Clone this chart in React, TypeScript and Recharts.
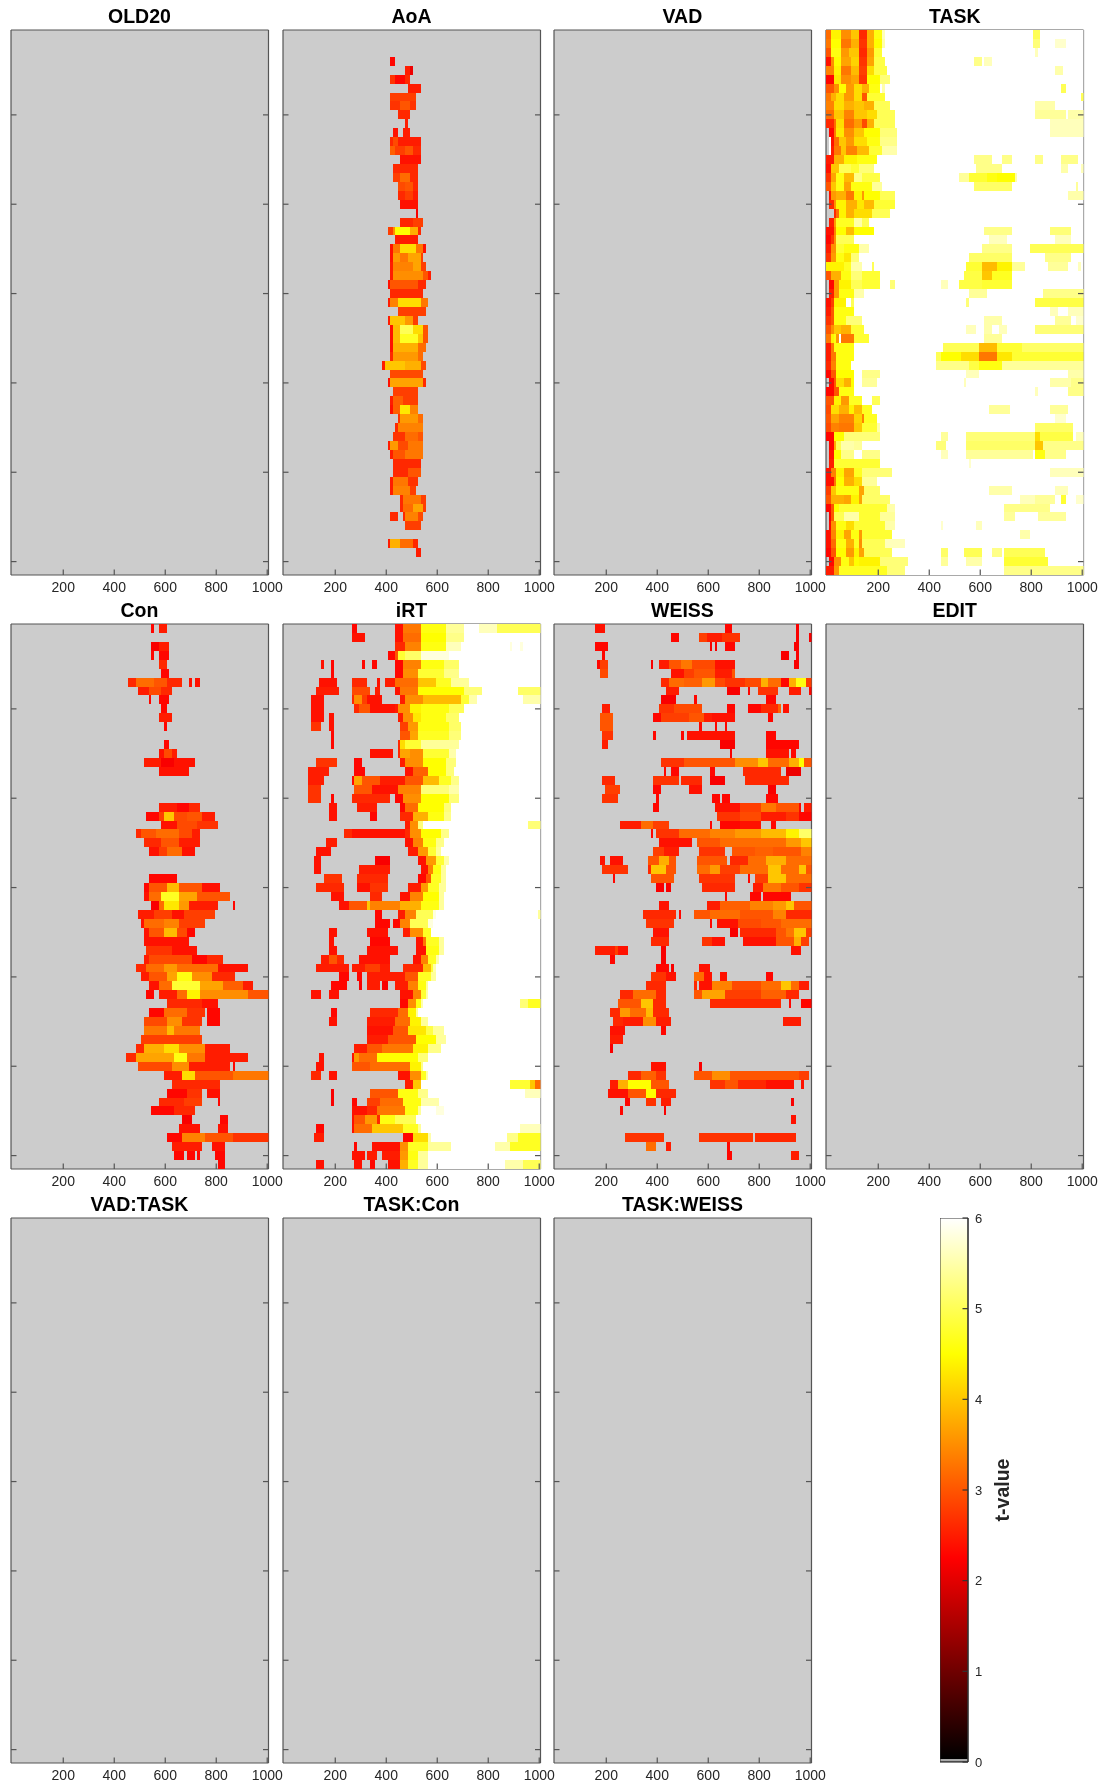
// EEG t-value panels: 11 heatmaps (time x channel) plus a hot colour bar.
import { Bar, BarChart, CartesianGrid, Scatter, ScatterChart, XAxis, YAxis } from "recharts";

const xTicks = [200, 400, 600, 800, 1000];
const yTicks = [10, 20, 30, 40, 50, 60];
const barTicks = [0, 1, 2, 3, 4, 5, 6];
const rowCount = 61;

// Each row is one channel, top to bottom. "a-b:t" = samples from a to b ms with t-value t.
// Later runs paint over earlier ones.
const none: string[] = [];

const aoaRows = [
  "", "", "",
  "420-430:2.3",
  "480-490:2.5 500:2.1",
  "420-430:2.7 440-470:2.3 480-490:2.6",
  "490-530:2.5",
  "420-510:2.8",
  "420-450:2.7 460-490:3 500-510:2.7",
  "450-490:2.6",
  "480:2.5",
  "430-440:2.4 470-490:2.5",
  "420:2.6 430-440:2.9 450-530:2.5",
  "420-430:3.1 440-470:2.8 480-500:3 510-530:2.6",
  "460-530:2.4",
  "430-520:2.6",
  "430-450:2.8 460-490:3.2 500-520:2.6",
  "450-470:2.9 480-500:3 510-520:2.6",
  "450-470:2.6 480-500:2.8 510-520:2.5",
  "460-520:2.4",
  "520:2.2",
  "460-500:2.6 510-540:2.8",
  "410-420:2.8 430:3.5 440-490:4.5 500-520:3.8 530:2.6",
  "440-520:2.5",
  "420:2.4 430-450:3.3 460-510:4.2 520-540:3.3 550:2.4",
  "420:2.4 430-450:3.6 460-480:3.3 490-530:3.7 540:2.8",
  "420:2.5 430-500:3.4 510-530:3.7 540-550:2.8",
  "420:2.5 430-540:3.5 550-560:3 570:2.5",
  "410:2.4 420-520:3 530-550:2.6",
  "420-540:2.6",
  "410:2.5 420-440:3.4 450-530:4.2 540-560:3.3",
  "450-550:2.8",
  "410:2.5 420-470:4 480-500:3.6 510-520:2.8",
  "420:2.4 430-450:3.9 460-500:5 510-540:4.2 550-560:3",
  "420:2.4 430-450:3.9 460-520:4.7 530-540:4 550-560:3",
  "420:2.4 430-520:3.8 530-550:3.2",
  "420:2.6 430-520:3.6 530-540:3.2",
  "390:2.5 400-470:4 480-530:3.8 540-550:2.9",
  "420-540:2.9",
  "410:2.4 420-540:3.7 550:2.6",
  "430-520:2.8",
  "420:2.5 430-460:3.1 470-520:2.8",
  "420:2.4 430-450:3.1 460-490:4.3 500-520:3.4",
  "450:2.7 460-520:3.6 530-540:3.2",
  "440:2.6 450-540:3.4",
  "430-470:2.7 480-520:3.2 530-540:3",
  "410:2.5 420-440:3.6 450-480:2.9 490-540:3.3",
  "420:2.5 430-470:3 480-540:3.3",
  "430-530:2.6",
  "430-480:2.6 490-530:3",
  "420:2.5 430-480:3.3 490-520:2.7",
  "420:2.5 430-490:3.4 500-510:2.8",
  "460:2.6 470-530:3.3 540-550:2.8",
  "460:2.6 470-500:3.2 510-540:3.7 550:2.8",
  "420-440:2.6 470:2.6 480-520:3.4 530-540:2.9",
  "480-530:2.8",
  "",
  "410:2.5 420-450:3.8 460-500:3.2 510-520:2.6",
  "520-530:2.5",
  "", "",
];

const taskRows = [
  "0-1000:6 0-10:3.2 20-50:4.4 60-90:3.5 100-120:4 130-150:2.6 160-180:3.8 190-210:4.6 220:5.6 810-830:5",
  "0-1000:6 0-10:3.3 20-50:4.5 60-90:3.3 100-120:3.8 130-150:2.7 160-180:3.8 190-210:4.5 220:5.5 810-830:5.2 900-930:5.7",
  "0-1000:6 0-10:3 20-50:4.6 60-80:3.6 90-120:4 130-150:2.6 160-180:3.6 190-210:4.8 820:5.6",
  "0-1000:6 0-10:2.4 20:3.5 30-50:4.5 60-90:3.7 100-120:4.1 130-150:2.7 160-180:3.7 190-220:4.9 580-600:5.3 620-640:5.6",
  "0-1000:6 0-20:3.4 30-50:4.4 60-90:3.3 100-120:3.9 130-150:2.8 160-180:4.2 190-230:4.9 900-920:5.5",
  "0-1000:6 0-20:2.3 30-50:4.3 60-90:3.5 100-120:3.7 130-150:2.7 160-200:4.5 210-240:5.2",
  "0-1000:6 0-20:3 30-40:3.5 50-70:4.5 80-100:3.6 110-130:4.2 140-160:3.8 170-200:4.6 220:5.5 920-930:5",
  "0-1000:6 0-10:3.3 20-30:3.8 40-60:4.2 70-100:3.6 110-130:4.2 140-150:3 160-220:4.8 1000:5",
  "0-1000:6 0-20:3.4 30-60:4.2 70-100:3.8 110-140:4 150-180:3.8 190-240:5 820-890:5.5",
  "0-1000:6 0-20:3.2 30-60:4 70-100:3.4 110-150:4 160-190:4.2 200-260:5 820-930:5.4 950-1000:5.5",
  "0-1000:6 0-20:2.6 30:3.2 40-60:4.2 70-100:3.2 110-130:3.6 140-150:2.9 160-180:3.8 190-260:5 880-1000:5.6",
  "10-1000:6 10-20:2.3 30:3.3 40-60:4.3 70-100:3.5 110-140:4 150-200:4.5 210-270:5.2 880-1000:5.6",
  "10-1000:6 20:2.4 30-40:3.2 50-70:4 80-100:3.6 110-150:4.2 160-200:4.6 210-270:5.3",
  "10-1000:6 20:2.5 30-50:3.3 60-70:4 80-110:3.4 120-160:3.9 170-210:4.8 220-270:5.5",
  "0-1000:6 0-20:2.5 30-60:3.8 70-110:4.4 120-190:4.6 580-640:5.3 690-720:5.3 820-840:5.3 920-980:5.3",
  "0-1000:6 0-10:2.4 20-40:4 50-90:5 100-120:4.8 130-180:5.2 590-680:5.3 920-940:5.5 1000:5.6",
  "0-1000:6 0-10:2.7 20-30:3.7 40-60:4.6 70-100:3.9 110-130:5.3 140-200:4.9 520-550:5.4 560-620:4.8 630-660:4.6 670-730:4.5 740:5.5",
  "0-1000:6 0-10:3 20-30:4 40-60:4.6 70-90:3.7 100-170:4.6 180-210:5.4 580-720:5.1 980:5.4",
  "10-1000:6 10:2.4 20-30:3.6 40-70:3.8 80-100:3.3 110-130:4.4 140:3.6 150-200:4.5 210-260:5 950-1000:5.5",
  "10-1000:6 10-20:2.6 30:3.5 40-70:4.4 80-110:3.8 120-140:4.3 150-180:3.9 190-260:4.8",
  "30-1000:6 30:2.6 40:3.2 50-70:4.4 80-100:3.8 110-130:4.2 140-170:4.2 180-240:5",
  "10-1000:6 10-20:2.5 30:3.6 40-100:4.7 110-130:5.5 140-160:5",
  "0-1000:6 0-20:2.4 30:3.4 40-70:4.5 80-100:3.9 110-180:4.5 620-720:5.3 880-950:5.2",
  "0-1000:6 0-10:2.3 20:2.7 30:3.5 40-100:5 640-700:5.6 900-950:5.6",
  "0-1000:6 0-10:2.5 20-30:3.5 40-60:4.8 70-120:4.6 130-160:5.5 610-720:5.3 800-1000:5",
  "0-1000:6 0-10:2.7 20-30:3.6 40-60:4.6 70-90:4.3 100-120:5.2 560-720:5.1 860-950:5.3",
  "0-1000:6 0-60:4.4 70-90:4.7 100-130:5.5 180:5 550-600:4.8 610-660:3.9 670-720:4.4 730-770:5.4 870-940:5.4 990:5.6",
  "0-1000:6 0-10:3 20-50:3.8 60-90:4.6 100-130:5.2 140-200:4.8 540-600:4.9 610-640:4 650-720:4.7",
  "10-1000:6 10-20:2.3 30-40:3.6 50-90:4.4 100-130:5 140-200:4.8 250-260:5.2 450-470:5.6 520-600:4.9 610-720:4.8",
  "10-1000:6 10-20:2.5 30-40:3.6 50-100:4.6 110-140:5.5 560-620:5.4 850-1000:5.3",
  "0-1000:6 0-10:2.4 20:2.8 30-70:4.4 100:5 550:5.2 820-1000:4.9",
  "0-1000:6 0-10:2.5 20:3 30-100:4.6 880-900:5.6 950-1000:5.6",
  "0-1000:6 0-10:2.7 20:3 30-70:4.6 80-130:5.2 620-680:5.5 900-950:5.4 980-1000:5.7",
  "0-1000:6 0-10:3 20:3.5 30-50:4 60-90:3.8 100-140:4.8 550-580:5.6 620-640:5.5 680-700:5.6 820-1000:5.2",
  "0-1000:6 0-10:3.3 20:4.4 30:4.6 40:3.6 60-100:3.3 110-160:4.8 620-680:5.4",
  "0-1000:6 0-10:2.5 20:3.3 30-100:4.6 460-590:5 600-660:3.9 670-760:4.8 770-1000:5.1",
  "0-1000:6 0-10:2.5 20-30:3.3 40-100:4.6 430-440:5 450-520:4.5 530-590:4.2 600-660:3.3 670-720:4.3 730-1000:4.8",
  "0-1000:6 0-10:2.6 20-30:3.4 40-90:4.6 430-550:5.3 560-590:4.9 600-680:4.6 690-1000:5.4",
  "0-1000:6 0-10:2.3 20-30:3 40-100:4.5 140-200:5.3 550-590:5.6 950-1000:5.5",
  "10-1000:6 10-20:2.3 30:3 40-60:4.2 70-90:3.8 100:4.5 140-190:5.4 540:5.6 880-950:5.5 960-1000:5.3",
  "0-1000:6 0-20:2.3 30-40:3 50-100:4.6 820:5.6 950-1000:5.3",
  "0-1000:6 0-20:3 30-50:4.4 60-80:3.6 90-130:4.7 180-200:5",
  "0-1000:6 0-10:2.9 20-40:4.2 50-80:3.8 90-100:4.4 110-130:3.9 140-170:4.7 640-710:5.4 880-940:5.4",
  "0-1000:6 0-10:3 20-40:3.7 50-100:3.4 110-130:4.1 140:3.4 150-190:4.7 900-930:5.7",
  "0-1000:6 0-10:2.9 20-40:3.4 50-100:3.3 110-130:4 140-190:4.8 200:5.5 820-960:5.1",
  "0-1000:6 0-20:2.3 30-60:4.5 70-130:5.2 140-200:5.2 450-470:5.4 550-810:5.2 820-830:4.2 840-960:4.9 980-1000:5.6",
  "10-1000:6 10-20:2.3 30:3.8 40-50:5 60-100:5.5 110-130:5.4 430-460:5.2 550-810:5.1 820-840:4 850-1000:5.3",
  "10-1000:6 10-20:2.4 30-50:4.5 60-100:5.3 140-200:5.3 450-470:5.6 550-800:5.4 820-850:4.6 860-930:5.3",
  "10-1000:6 10-20:2.5 30-200:4.8 560:5.7",
  "0-1000:6 0-10:2.4 20-30:3.4 40-60:4.4 70-100:3.7 110-130:4.7 140-250:5.2 880-1000:5.6",
  "0-1000:6 0-20:2.4 30:3.3 40-60:4.5 70-100:3.8 110-130:4.2 140-190:5.4",
  "0-1000:6 0-10:2.8 20-30:4 40-120:4.6 130-140:3.7 150-200:5.1 640-720:5.5 900-940:5.6",
  "0-1000:6 0-10:3 20-60:3.8 70-90:3.7 100-120:4.4 130:3.7 140-240:5.1 760-810:5.6 820-890:5.4 920-930:4.8 980-1000:5.7",
  "0-1000:6 0-10:2.3 20:3 30-40:4.5 50-100:4.8 110-230:4.8 240-260:5.5 700-870:5.3",
  "10-1000:6 10:2.2 20:3 30-60:5 70-120:5.5 130-200:4.8 210-260:5.4 700-730:5.4 830-930:5.4",
  "10-1000:6 10:2.3 20-30:3.5 40-70:4.6 80-100:4.2 110-220:4.8 230-260:5.5 450:5.7 590-600:5.6",
  "0-1000:6 0-10:2.4 20-30:3.4 40-60:4.4 70-90:3.7 100-120:4.6 130:3.6 140-250:4.8 760-790:5.5",
  "0-1000:6 0-10:2.4 20-30:3.2 40-70:4.6 80-100:3.8 110-120:4.7 130:3.5 140-220:5 230-300:5.6",
  "0-1000:6 0-10:2.3 20-30:3 40-70:4.5 80-100:3.6 110-120:4.4 130-140:3.7 150-250:5 450-470:5.1 540-600:5 650-680:5.3 700-850:5",
  "10-1000:6 10-20:2.3 30-50:3.5 60-80:4.6 90-100:4 110-120:4.5 130-200:4.4 210-310:5.2 450-470:5.4 550-600:5.5 700-860:4.8",
  "0-1000:6 0-20:2.5 30-40:3.6 50-230:4.7 240-300:5.2 700-1000:5.3",
];

const conRows = [
  "550:2.3 580-600:2.5",
  "",
  "550-570:2.2 580-610:2.5",
  "550:2.3 580-610:2.3",
  "580-600:2.6",
  "590-610:2.3",
  "460-480:2.6 490-550:3.2 560-600:3 610-660:2.6 700:2.4 720-730:2.4",
  "500-530:2.5 540-580:2.9 590-620:2.6",
  "540:2.3 580-610:2.3",
  "590-600:2.3",
  "580-620:2.5",
  "600:2.3",
  "",
  "600-610:2.3",
  "580-590:2.4 600-620:2.9 630-640:2.5",
  "520-580:2.5 590-630:2.2 640-710:2.4",
  "580-690:2.4",
  "", "", "",
  "580-640:2.5 650-690:2.3 700-730:2.6",
  "530-570:2.3 580-590:2.8 600-630:4 640-680:2.9 690-740:3 750-790:2.5",
  "590-640:2.4 650-720:2.9 730-800:2.7",
  "490-500:2.6 510-560:3 570-650:3.2 660-700:2.9 710-730:2.5",
  "520-580:2.6 590-650:3 660-730:2.5",
  "540-570:2.4 580-600:2.8 610-660:3.2 670-710:2.4",
  "", "",
  "540-640:2.3",
  "520-530:2.3 540-600:3 610-650:3.9 660-740:3 750-810:2.4",
  "520-530:2.4 540-580:3.2 590-650:4.7 660-720:3.7 730-850:3",
  "550-570:2.2 580-590:3.2 600-650:4.3 660-690:3.6 700-800:2.5 870:2.3",
  "500-550:2.5 560-620:2.8 630-670:2.4 680-790:2.8",
  "510:2.4 520-590:3.2 600-650:3.4 660-750:2.8",
  "520-530:2.4 540-590:3 600-640:3.9 650-680:2.9 690-710:2.3",
  "520-690:2.4",
  "530-620:2.7 630-720:2.4",
  "520-530:2.5 540-700:2.9 710-760:2.3 770-820:2.6",
  "490-520:2.6 530-590:3.2 600-640:3.6 650-800:3.2 810-920:2.4",
  "510-530:2.5 540-600:3 610-640:3.7 650-700:4.6 710-780:3.5 790-870:2.6",
  "540-570:2.4 580-620:3.2 630-730:4.8 740-820:3.7 830-900:3.1 910-940:2.5",
  "530-550:2.3 580-640:2.5 650-680:3.2 690-730:4.4 740-920:3.5 930-1000:3",
  "610-740:2.6 750-800:2.4",
  "540-590:2.3 600-680:3.2 690-750:2.7 770-810:2.3",
  "520-600:2.9 610-660:3.5 670-740:2.7 770-810:2.3",
  "520-600:3.3 610-630:3.9 640-730:3.3",
  "510-740:2.8",
  "490-510:2.6 520-590:3.8 600-650:4.2 660-750:3.5 760-850:2.5",
  "450-480:2.6 490-630:3.7 640-680:4.6 690-750:3.3 760-920:2.5",
  "500-620:2.9 630-690:3.5 700-850:2.5 870:2.3",
  "600-660:2.5 670-710:4.2 720-860:3 870-1000:3.3",
  "630-810:2.6",
  "610-680:2.3 690-740:2.7 770-810:2.4",
  "580-670:2.6 680-740:2.8 810:2.3",
  "550-630:2.3 640-710:2.6",
  "670-700:2.2 820-840:2.3",
  "660-730:2.4 810-840:2.4",
  "610-660:2.3 670-750:3.4 760-860:3 870-1000:2.7",
  "630-740:2.5 790-830:2.4",
  "640-670:2.3 690-710:2.3 730:2.3 800-830:2.3",
  "810-830:2.3",
];

const irtRows = [
  "270-280:2.3 440-460:2.4 470-530:3.3 540-630:4.6 640-700:5.4 710-1000:6 770-830:5.6 840-1000:5",
  "270-310:2.4 440-460:2.4 470-530:3.2 540-630:4.5 640-700:5.3 710-1000:6",
  "440-470:2.6 480-530:3.4 540-630:4.6 640-690:5.6 700-1000:6 890:5.8 930:5.8",
  "410-430:2.3 440:3 450-470:4.8 480-530:5.1 540-640:5.8 650-1000:6",
  "150:2.4 190:2.3 310:2.3 350-360:2.3 440-460:2.3 470-530:3.4 540-620:4.6 630-680:5.1 690-1000:6",
  "190:2.3 440-460:2.3 470-520:3.5 530-620:4.8 630-680:5.3 690-1000:6",
  "140-200:2.4 270-320:2.6 370:2.4 400-430:2.5 440-520:3.2 530-590:4 600-650:4.7 660-720:5.4 730-1000:6",
  "130-210:2.5 270-330:2.9 360-370:2.5 440-450:2.4 460-520:3.3 530-700:4.5 710-770:5.2 780-1000:6 920-1000:5.1",
  "110-150:2.4 270:2.6 280-300:3.5 310-320:2.8 330-380:2.4 460-470:2.5 480-540:3.5 550-690:3.9 700-720:4.8 730-750:5.5 760-1000:6 940-1000:5.5",
  "110-150:2.4 280-290:2.6 300-330:3 340-430:2.4 440:2.5 450-490:3.5 500-530:4.4 540-640:4.6 650-700:5 710-1000:6",
  "110-150:2.4 180-190:2.4 450-460:2.5 470-500:3.5 510-530:4.3 540-630:4.6 640-680:5.1 690-1000:6",
  "110-140:2.7 180-190:2.4 460-480:2.8 490-520:3.6 530-640:4.6 650-690:5.1 700-1000:6",
  "190:2.3 460-490:3 500-520:3.7 530-640:4.7 650-690:5.2 700-1000:6",
  "190:2.3 450:2.6 460-470:4.2 480-530:4.8 540-680:5.4 690-1000:6",
  "340-420:2.4 450:2.6 460-490:3.7 500-540:3.5 550-640:4.8 650-670:5.5 680-1000:6",
  "130-200:2.7 280-300:2.3 460-470:2.5 480-540:3.5 550-630:4.5 640-670:5.2 680-1000:6",
  "100-170:2.5 280-310:2.3 480-500:2.4 510-560:3.1 570-630:4.5 640-660:5.2 670-1000:6",
  "100-150:2.5 270:2.3 280-300:3.7 310-370:3 380-470:2.5 480-540:3 550-600:3.9 610-650:4.7 660-680:5.3 690-1000:6",
  "100-140:2.7 280-340:3 350-440:2.4 450-530:3.4 540-640:5.2 650-680:5.5 690-1000:6",
  "100-140:2.7 190:2.3 270-410:2.6 440-460:2.3 470-530:3.5 540-640:4.5 650-680:5.2 690-1000:6",
  "180-200:2.4 290-360:2.5 460-470:2.3 480-520:3.2 530-620:4.5 630-650:5.2 660-1000:6",
  "180-200:2.4 340-360:2.3 460-500:2.6 510-560:3.8 570-620:4.6 630-650:5.3 660-1000:6",
  "480-490:2.5 500-520:3.5 530-540:5.2 550-1000:6 960-1000:5.2",
  "240-260:2.6 270-470:2.4 480-490:2.6 500-530:3.5 540-610:4.5 620-640:5.3 650-1000:6",
  "170-200:2.5 480-500:2.4 510-540:3.4 550-590:4.6 600-620:5.3 630-1000:6",
  "130-180:2.4 490-520:2.5 530-560:3.6 570-590:4.8 600-610:5.4 620-1000:6",
  "120-140:2.4 360-410:2.2 530-550:2.4 560-590:3.6 600-620:4.8 630-640:5.5 650-1000:6",
  "120-140:2.4 300-410:2.5 540-560:2.4 570-580:3.4 590-610:4.6 620-630:5.4 640-1000:6",
  "160-220:2.7 290-400:2.6 530-550:2.3 560-570:3 580-610:4.7 620-630:5.4 640-1000:6",
  "130-230:2.6 290-330:2.4 340-400:2.7 490-530:2.5 540-560:3.6 570-600:4.7 610-630:5.4 640-1000:6",
  "190-230:2.4 340-380:2.6 460-490:2.4 500-540:3.4 550-600:4.5 610-620:5.4 630-1000:6",
  "220-250:2.4 260-320:3 330:4 340-450:3.4 460-530:3.8 540-600:4.6 610-620:5.4 630-1000:6",
  "360-380:2.3 450-470:2.5 480-510:3.4 520-580:5 590:5.8 600-1000:6 1000:5.4",
  "360-410:2.3 430-450:2.3 460-490:3.4 500-560:5 570-580:5.8 590-1000:6",
  "180-200:2.4 330-400:2.4 470-490:2.5 500-540:3.5 550-570:4.7 580-1000:6",
  "180-190:2.4 340-410:2.3 520-540:2.4 550:3.3 560-600:4.7 610-620:5.4 630-1000:6",
  "180-200:2.4 330-440:2.4 520-550:2.4 560-600:4.6 610-620:5.4 630-1000:6",
  "150-170:2.5 180-200:3 210-230:2.6 300-410:2.4 510-530:2.4 540-560:3.4 570-590:4.7 600:5.5 610-1000:6",
  "130-250:2.5 270-310:2.5 320-370:2.8 380-410:2.5 470-540:2.6 550-570:3.9 580:4.8 590:5.5 600-1000:6",
  "220-250:2.3 290-300:2.3 330-470:2.5 480-520:3 530-570:4.7 580-590:5.4 600-1000:6",
  "190-240:2.3 300:2.2 330-370:2.5 390-400:2.2 440-480:2.5 490-520:3.4 530-550:4.6 560:5.4 570-1000:6",
  "110-140:2.4 180-210:2.4 460-500:2.4 510-530:3.4 540-550:4.8 560:5.5 570-1000:6",
  "460-480:2.3 490-510:3.5 520-530:4.6 540:5.5 550-1000:6 930-950:5.2 960-1000:4.7",
  "190-200:2.3 340-440:2.6 450-480:3.2 490-510:4.4 520:5.4 530-1000:6",
  "180-200:2.4 330-430:2.5 440-490:3.2 500-530:4.4 540-560:5.4 570-1000:6",
  "330-420:2.4 430-480:3 490-550:4.3 560-580:4.9 590-620:5.4 630-1000:6",
  "330-400:2.5 410-510:3 520-590:4.5 600-630:5.4 640-1000:6",
  "280-320:2.5 330-380:3 390-500:3.3 510-560:4.4 570-610:5.3 620-1000:6",
  "140-150:2.4 270:2.4 280-290:3.6 300-360:3.2 370-520:4.5 530-560:5.2 570-1000:6",
  "130-150:2.4 270-330:3 340-490:3.2 500-530:4.4 540:5.3 550-1000:6",
  "110-140:2.6 180-200:2.4 450-490:2.4 500-530:3.5 540-550:4.7 560:5.5 570-1000:6",
  "480-500:2.5 510-530:4 540-1000:6 890-960:4.8 970-980:4 990-1000:3.2",
  "190:2.2 340-440:3 450-520:4.6 530-560:5.3 570-1000:6 950-1000:5.6",
  "190:2.2 270-280:2.3 330-370:2.8 380-460:3.2 470-530:4.6 540-600:5.5 610-1000:6",
  "270-320:2.4 330-360:2.6 370-470:3.3 480-520:4.6 530:5.4 540-1000:6 600-620:5.8",
  "270:2.4 280-310:3 320-360:3.6 370:2.6 380-430:4.6 440-510:5 520-1000:6",
  "130-150:2.3 270:2.4 280-340:3.2 350-460:4 470-520:4.7 530:5.4 540-1000:6 930-1000:5.6",
  "120-150:2.5 470-500:2.3 510-560:4.2 570:5.5 580-1000:6 880-910:5.3 920-1000:4.7",
  "280:2.3 350-450:2.4 460-480:3.5 490-560:4.7 570-650:5.4 660-1000:6 830-880:5.5 890-1000:4.7",
  "270-310:2.4 330-360:2.5 390-450:2.5 460-480:3.6 490-520:4.6 530-560:5.4 570-1000:6",
  "130-150:2.4 280-300:2.4 340-350:2.3 410-450:2.4 460-480:3.8 490-520:4.7 530-560:5.4 570-1000:6 870-930:5.5 940-1000:5",
];

const weissRows = [
  "160-190:2.4 670-690:2.3 950:2.2",
  "460-480:2.3 570-590:2.8 600-650:2.5 660-720:2.7 950:2.2 1000:2.2",
  "160-200:2.3 610:2.2 630:2.2 670-700:2.3 940-950:2.2",
  "190:2.3 890-910:2.2 950:2.2",
  "170:2.3 180-200:2.8 380:2.2 410-440:2.5 450-490:3 500-530:3.3 540-620:2.9 630-700:2.4 940-950:2.2",
  "180-200:2.9 460-500:2.4 510-540:2.8 550-620:3 630-690:2.5 700:3",
  "420-440:2.6 450-500:3.2 510-570:3.1 580-620:3.6 630-660:2.9 670-740:2.7 750-800:2.9 810-830:3.8 840-880:3.2 890-910:2.3 920-940:3.8 950-980:4.6 990-1000:2.8",
  "440-480:2.5 680-720:2.2 760:2.3 800-870:2.7 920-960:2.5 1000:2.3",
  "420-470:2.2 550:2.3 830-860:2.3",
  "190-210:2.5 410-460:2.7 470-570:2.9 680-700:2.3 760-800:2.3 810-870:2.6 880:3.1 900-910:2.4",
  "180-220:3 390-410:2.3 420-520:2.8 530-580:3 590-610:2.5 620-700:2.4 840-850:2.3",
  "180-220:3 570:2.3 630:2.3 670:2.3",
  "190-220:2.7 390:2.3 500:2.3 520-700:2.4 830-860:2.3",
  "190-200:2.5 650-700:2.2 830-950:2.3",
  "690:2.2 830-910:2.4 930-940:2.3",
  "420-500:2.7 510-700:3 710-790:3.5 800-830:4 840-910:3.2 920-950:3.8 960-970:4.5 980-1000:3",
  "430:2.3 460-480:2.3 610-620:2.3 740-880:2.6 910-960:2.1",
  "190-230:2.6 390-480:2.7 500-570:2.6 610-660:2.2 750-910:2.6",
  "200-250:2.8 390-410:2.3 530-570:2.4 840-860:2.2",
  "190-240:2.7 400:2.3 620-640:2.3 660-680:2.3 830-870:2.3",
  "390-400:2.3 630-720:2.4 730-800:2.8 810-860:3.3 870-950:3 960:2.3 980-1000:2.5",
  "640-720:2.7 730-800:2.9 810-900:2.5 910-950:2.7 960-1000:2.3",
  "260-330:2.5 340-380:3.2 390-440:2.8 610:2.3 650-720:2.3 730-800:2.4 850-860:2.3",
  "380:2.3 400-480:2.7 490-600:3.2 610-700:3.4 710-800:3.6 810-900:3.9 910-950:4.4 960-1000:5.1",
  "410-530:2.4 560-640:3 650-790:3.2 800-900:3.2 910-960:3.6 970-1000:4",
  "390-420:2.8 430-480:2.5 570-660:2.7 700-780:3 790-850:3.1 860-960:3 970-1000:3.4",
  "180-190:2.4 220-260:2.4 370-400:3 410-440:3.8 450-470:3 560-670:3 690-750:2.6 760-820:3.2 830-900:3.8 910-1000:3.2",
  "190-280:2.7 370:2.6 380-430:4 440-470:3 560-600:3.2 610-640:3.6 650-720:2.8 730-830:3.2 840-880:4 890-950:3.2 960-980:4 990-1000:3",
  "230:2.3 380-460:3 570-700:2.7 760:2.3 790-830:2.8 840-900:4 910-1000:3.2",
  "400-420:2.2 440-450:2.2 580-700:2.6 780-810:2.5 820-880:3.3 890-950:3 960-1000:2.7",
  "670:2.3 770-800:2.3 820-920:2.3",
  "410-440:2.4 600-640:2.5 650-760:3.1 770-850:3.4 860-900:3.6 910-930:4 940-1000:3",
  "350-470:2.6 490:2.3 550-600:3 610-720:3.2 730-850:3 860-900:3.4 910-1000:2.6",
  "360-460:2.7 610:2.3 640-710:2.4 720-800:2.9 810-880:3 890-1000:3.2",
  "390-440:2.4 690-710:2.2 730-860:2.6 870-900:3 910-930:3.3 940-980:4 990-1000:2.8",
  "380-440:2.6 580-610:2.7 620-660:2.4 740-860:2.4 870-930:3 940-960:3.8 970-990:2.8",
  "160-230:2.5 240:2.8 250-280:2.4 420-430:2.2 930-960:2.4",
  "220-230:2.3 420-430:2.2",
  "400-440:2.3 460:2.2 570-600:2.4",
  "380-430:2.7 440-470:2.4 550-580:3.2 590-610:2.4 650-670:2.4 830-850:2.3",
  "360-430:2.6 550:2.6 570-610:2.4 620-690:3.4 700-800:2.9 810-880:3.2 890-920:4 930-950:3.2 960-990:2.5",
  "260-300:2.6 310-390:3.2 400-430:2.6 550-570:3 580-660:3.7 670-800:2.8 810-900:3.1 910-950:2.6",
  "250-330:3 340-380:4 390-430:2.6 610-880:2.6 920:2.3 970-1000:2.3",
  "220-250:2.6 260-290:3.6 300-350:3.2 360-380:3.9 390-440:2.6",
  "230-260:2.6 270-340:2.5 350-390:3.5 400-450:2.5 900-960:2.5",
  "220-270:2.4 420-430:2.3",
  "220-260:2.5",
  "220:2.2",
  "",
  "380-430:2.4 570:2.2",
  "290-330:2.6 340-390:3.1 400-430:2.7 550-610:3 620-680:3.5 690-880:3 890-950:3 960-990:2.8",
  "220-240:2.5 250-280:3.8 290-370:4.5 380-440:3 610-660:2.7 670-710:3 720-820:2.6 830-930:2.4 970:2.4",
  "210-280:2.4 290-350:3 360-390:4.5 400-470:2.6",
  "280-290:2.3 360-390:2.7 420-450:2.5 930:2.2",
  "260:2.3 430:2.2",
  "930-940:2.4",
  "",
  "280-420:2.7 570-770:2.7 790-940:2.6",
  "360-390:3.2 440-450:2.5 680:2.3",
  "680-690:2.3 930-950:2.5",
  "",
];

// hot colormap stops, used for the cells and the colour bar
const hotStops = [
  { at: 0, color: [0, 0, 0] },
  { at: 2.25, color: [255, 0, 0] },
  { at: 4.5, color: [255, 255, 0] },
  { at: 6, color: [255, 255, 255] },
];

function hot(t: number) {
  for (let i = 1; i < hotStops.length; i++) {
    const a = hotStops[i - 1];
    const b = hotStops[i];
    if (t <= b.at) {
      const f = (t - a.at) / (b.at - a.at);
      const c = a.color.map((v, k) => Math.round(v + (b.color[k] - v) * f));
      return `rgb(${c[0]},${c[1]},${c[2]})`;
    }
  }
  return "#fff";
}

function toCells(rows: string[]) {
  const cells: { x: number; y: number; w: number; t: number }[] = [];
  rows.forEach((row, i) => {
    if (!row) return;
    row.split(" ").forEach((token) => {
      const [span, t] = token.split(":");
      const [a, b] = span.split("-").map(Number);
      const end = b === undefined ? a : b;
      cells.push({ x: (a + end) / 2, y: i + 1, w: end - a + 10, t: Number(t) });
    });
  });
  return cells;
}

const colLeft = [10.7, 282.7, 553.7, 826];
const rowTop = [30.3, 624, 1218];
const plotW = 257.5;
const plotH = 545;
const pad = 20;
const frame = "#555555";
const textColor = "#262626";
const font = "'Liberation Sans', Arial, sans-serif";
const tickLen = 5.5;

const panels = [
  { title: "OLD20", col: 0, row: 0, rows: none },
  { title: "AoA", col: 1, row: 0, rows: aoaRows },
  { title: "VAD", col: 2, row: 0, rows: none },
  { title: "TASK", col: 3, row: 0, rows: taskRows },
  { title: "Con", col: 0, row: 1, rows: conRows },
  { title: "iRT", col: 1, row: 1, rows: irtRows },
  { title: "WEISS", col: 2, row: 1, rows: weissRows },
  { title: "EDIT", col: 3, row: 1, rows: none },
  { title: "VAD:TASK", col: 0, row: 2, rows: none },
  { title: "TASK:Con", col: 1, row: 2, rows: none },
  { title: "TASK:WEISS", col: 2, row: 2, rows: none },
];

function Cell(props: any) {
  const { cx, cy, payload } = props;
  const w = (payload.w * plotW) / 1010;
  const h = plotH / rowCount;
  return (
    <rect
      x={cx - w / 2}
      y={cy - h / 2}
      width={w}
      height={h}
      fill={hot(payload.t)}
      shapeRendering="crispEdges"
    />
  );
}

/* ---- inward MATLAB style ticks, on all four sides ---- */
const inward: Record<string, number[]> = {
  bottom: [0, -tickLen],
  top: [0, tickLen],
  left: [tickLen, 0],
  right: [-tickLen, 0],
};

function sideTick(side: string, stroke: string) {
  return (p: any) => {
    const [dx, dy] = inward[side];
    return (
      <g>
        <line x1={p.x} y1={p.y} x2={p.x + dx} y2={p.y + dy} stroke={stroke} strokeWidth={1.2} />
        {side === "bottom" && (
          <text x={p.x} y={p.y + 17} textAnchor="middle" fill={textColor} fontSize={14} fontFamily={font}>
            {p.payload.value}
          </text>
        )}
      </g>
    );
  };
}

function barTick(p: any) {
  const [dx, dy] = inward.right;
  return (
    <g>
      <line x1={p.x} y1={p.y} x2={p.x + dx} y2={p.y + dy} stroke="#333333" strokeWidth={1.2} />
      <text x={p.x + 7} y={p.y + 4.5} fill={textColor} fontSize={13} fontFamily={font}>
        {p.payload.value}
      </text>
    </g>
  );
}

function Panel({ title, col, row, rows }: any) {
  const left = colLeft[col];
  const top = rowTop[row];
  const line = { stroke: frame, strokeWidth: 1.2 };
  const xProps = {
    type: "number" as const,
    domain: [-5, 1005],
    allowDataOverflow: true,
    ticks: xTicks,
    interval: 0,
    height: 1,
    tickSize: 0,
    tickMargin: 0,
    tickLine: false,
    axisLine: line,
  };
  const yProps = {
    type: "number" as const,
    domain: [0.5, 61.5],
    allowDataOverflow: true,
    reversed: true,
    ticks: yTicks,
    interval: 0,
    width: 1,
    tickSize: 0,
    tickMargin: 0,
    tickLine: false,
    axisLine: line,
  };
  return (
    <>
      <div
        style={{
          position: "absolute",
          left: left - 20,
          top: top - 25.5,
          width: plotW + 40,
          textAlign: "center",
          font: `bold 19.5px ${font}`,
          color: "#000",
        }}
      >
        {title}
      </div>
      <div style={{ position: "absolute", left: left - pad, top: top - 1 }}>
        <ScatterChart
          width={plotW + pad * 2}
          height={plotH + 31}
          margin={{ top: 0, right: pad - 1, bottom: 29, left: pad - 1 }}
        >
          <CartesianGrid horizontal={false} vertical={false} fill="#cccccc" xAxisId="b" yAxisId="l" />
          <Scatter
            data={toCells(rows)}
            dataKey="y"
            xAxisId="b"
            yAxisId="l"
            shape={Cell}
            isAnimationActive={false}
          />
          <XAxis {...xProps} xAxisId="b" dataKey="x" orientation="bottom" tick={sideTick("bottom", frame)} />
          <XAxis {...xProps} xAxisId="t" orientation="top" tick={sideTick("top", frame)} />
          <YAxis {...yProps} yAxisId="l" dataKey="y" orientation="left" tick={sideTick("left", frame)} />
          <YAxis {...yProps} yAxisId="r" orientation="right" tick={sideTick("right", frame)} />
        </ScatterChart>
      </div>
    </>
  );
}

const barData = [{ name: "t-value", top: 6 }];

function ColourBar() {
  const line = { stroke: "#333333", strokeWidth: 1.2 };
  return (
    <div style={{ position: "absolute", left: 940, top: 1208 }}>
      <BarChart
        width={120}
        height={564}
        data={barData}
        barCategoryGap={0}
        margin={{ top: 10, right: 91, bottom: 9, left: 0 }}
      >
        <defs>
          <linearGradient id="hotRamp" x1="0" y1="1" x2="0" y2="0">
            <stop offset="0" stopColor="#aaaaaa" />
            <stop offset="0.006" stopColor="#aaaaaa" />
            <stop offset="0.006" stopColor="#000000" />
            {hotStops.map((s) => (
              <stop key={s.at} offset={s.at / 6} stopColor={hot(s.at)} />
            ))}
          </linearGradient>
        </defs>
        <XAxis dataKey="name" height={1} tick={false} tickLine={false} axisLine={line} />
        <Bar dataKey="top" yAxisId="bar" fill="url(#hotRamp)" stroke="#333333" isAnimationActive={false} />
        <YAxis
          yAxisId="bar"
          type="number"
          orientation="right"
          domain={[0, 6]}
          allowDataOverflow
          ticks={barTicks}
          interval={0}
          width={1}
          tickSize={0}
          tickMargin={0}
          tickLine={false}
          tick={barTick}
          axisLine={line}
        />
      </BarChart>
      <div
        style={{
          position: "absolute",
          left: 61.5,
          top: 282,
          transform: "translate(-50%,-50%) rotate(-90deg)",
          font: `bold 19.5px ${font}`,
          color: "#262626",
          whiteSpace: "nowrap",
        }}
      >
        t-value
      </div>
    </div>
  );
}

export default function App() {
  return (
    <div
      style={{
        position: "absolute",
        left: 0,
        top: 0,
        width: 1105,
        height: 1785,
        background: "#fff",
        overflow: "hidden",
        filter: "blur(0.7px)",
      }}
    >
      {panels.map((p) => (
        <Panel key={p.title} {...p} />
      ))}
      <ColourBar />
    </div>
  );
}
